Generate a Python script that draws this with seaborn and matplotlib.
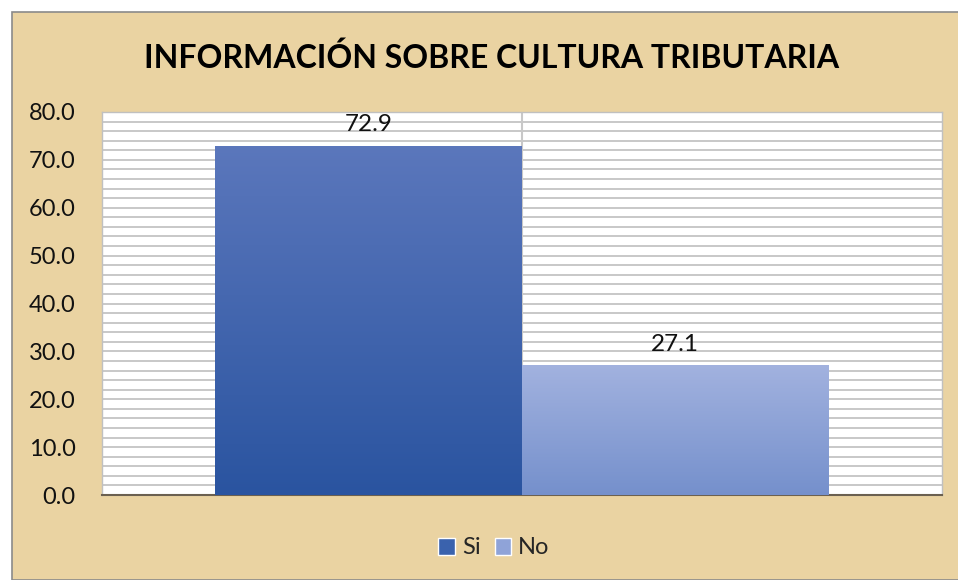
import numpy as np
import matplotlib
matplotlib.use('Agg')
import matplotlib.pyplot as plt
import seaborn as sns
from matplotlib.patches import Rectangle
from matplotlib.colors import LinearSegmentedColormap

# Data
categories = ['Si', 'No']
values = [72.9, 27.1]
top_colors = ['#5B77BC', '#A2B2DF']
bottom_colors = ['#2A54A0', '#7590CC']

sns.set_theme(style='white')
plt.rcParams['font.family'] = ['Lato', 'DejaVu Sans']

fig = plt.figure(figsize=(9.58, 5.80), dpi=100)
fig.patch.set_facecolor('white')

# papyrus-like panel
panel = Rectangle((12 / 958, 0), 1, 1 - 12 / 580, transform=fig.transFigure,
                  facecolor='#EAD3A2', edgecolor='#8A8A8A', linewidth=1.2, zorder=-10)
fig.patches.append(panel)

ax = fig.add_axes([102 / 958, 1 - 495 / 580, (942 - 102) / 958, (495 - 112) / 580])
ax.set_facecolor('white')

sns.barplot(x=categories, y=values, hue=categories, palette=top_colors,
            width=1.0, legend=False, ax=ax, zorder=3)

ax.set_xlim(-0.869, 1.872)
ax.set_ylim(0, 80)

# gradients clipped to bars
for bar, c_top, c_bot in zip(ax.patches, top_colors, bottom_colors):
    x0, y0 = bar.get_x(), bar.get_y()
    w, h = bar.get_width(), bar.get_height()
    cmap = LinearSegmentedColormap.from_list('g', [c_bot, c_top])
    grad = np.linspace(0, 1, 256).reshape(-1, 1)
    im = ax.imshow(grad, cmap=cmap, aspect='auto', origin='lower',
                   extent=[x0, x0 + w, y0, y0 + h], zorder=4)
    im.set_clip_path(bar)
    bar.set_facecolor('none')
    bar.set_edgecolor('none')
    ax.text(x0 + w / 2, h + 2.2, f'{h:.1f}', ha='center', va='bottom',
            fontsize=17.5, color='#111111', zorder=6)

ax.set_yticks(np.arange(0, 81, 10))
ax.set_yticks(np.arange(0, 81, 2), minor=True)
ax.set_yticklabels([f'{v:.1f}' for v in np.arange(0, 81, 10)], fontsize=17, color='#111111')
ax.grid(True, axis='y', which='both', color='#C4C4C4', linewidth=1.3, zorder=0)
ax.axvline(0.5, color='#C8C8C8', linewidth=1.5, zorder=1)
ax.set_xticks([])
ax.tick_params(axis='y', which='both', length=0, pad=19)
ax.set_xlabel('')
ax.set_ylabel('')
for side in ['top', 'right', 'left']:
    ax.spines[side].set_color('#C0C0C0')
    ax.spines[side].set_linewidth(1.0)
ax.spines['bottom'].set_color('#6B6050')
ax.spines['bottom'].set_linewidth(1.5)

fig.text(492 / 958, 1 - 58 / 580, 'INFORMACIÓN SOBRE CULTURA TRIBUTARIA',
         ha='center', va='center', fontsize=23, fontweight='bold', color='black')

# legend
handles = [Rectangle((0, 0), 1, 1, facecolor=c) for c in ['#3A62AD', '#8FA3D8']]
fig.legend(handles, categories, loc='center', bbox_to_anchor=(494 / 958, 1 - 548 / 580),
           ncol=2, frameon=False, fontsize=17, handlelength=0.7, handleheight=0.7,
           handletextpad=0.3, columnspacing=0.6)

fig.savefig('out.png', dpi=100)
